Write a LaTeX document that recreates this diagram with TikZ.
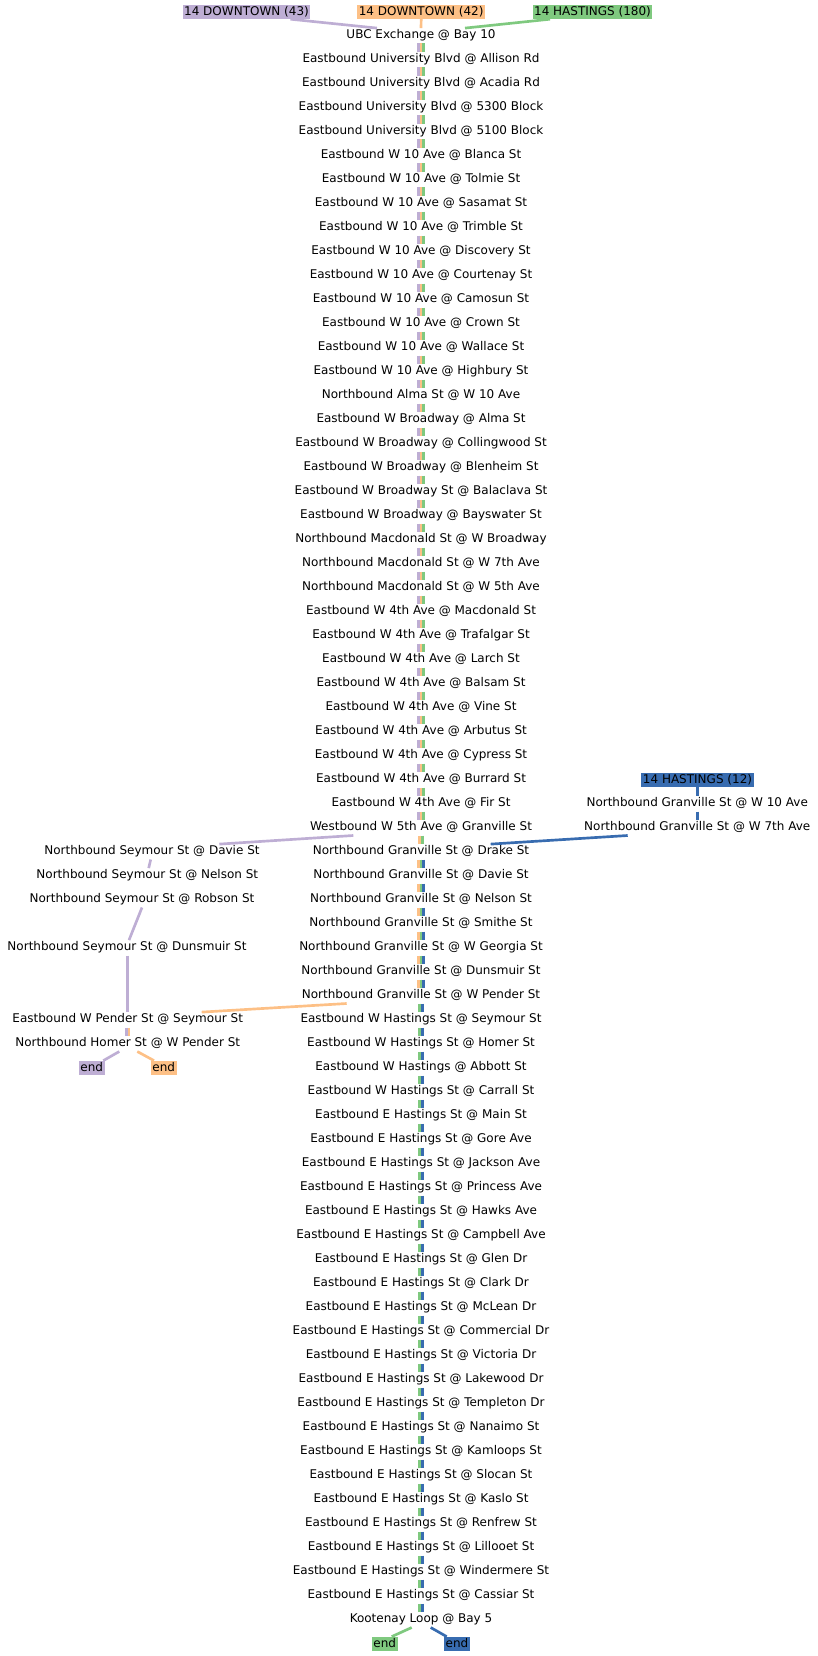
\documentclass[tikz,border=0pt]{standalone}
\usepackage{fontspec}
\setmainfont{DejaVu Sans}
\usepackage{tikz}
\usetikzlibrary{calc}
\definecolor{linePurple}{HTML}{BEAED4}
\definecolor{lineOrange}{HTML}{FDC086}
\definecolor{lineGreen}{HTML}{7FC97F}
\definecolor{lineBlue}{HTML}{386CB0}

\begin{document}
\begin{tikzpicture}[x=1pt, y=-1pt,
        parada/.style={inner sep=0pt, minimum height=15pt, text height=9pt, text depth=3pt, font=\fontsize{12}{14}\selectfont},
        ruta/.style={inner xsep=1.5pt, inner ysep=0pt, text height=11pt, text depth=3pt, font=\fontsize{12}{14}\selectfont, fill=#1},
        tramo/.style={line width=2.67pt, draw=#1}
    ]
        \useasboundingbox (0,0) rectangle (817,1656);

        % --- Columna principal de paradas ---
        \foreach \nombre [count=\i from 0] in {UBC Exchange @ Bay 10,
            Eastbound University Blvd @ Allison Rd,
            Eastbound University Blvd @ Acadia Rd,
            Eastbound University Blvd @ 5300 Block,
            Eastbound University Blvd @ 5100 Block,
            Eastbound W 10 Ave @ Blanca St,
            Eastbound W 10 Ave @ Tolmie St,
            Eastbound W 10 Ave @ Sasamat St,
            Eastbound W 10 Ave @ Trimble St,
            Eastbound W 10 Ave @ Discovery St,
            Eastbound W 10 Ave @ Courtenay St,
            Eastbound W 10 Ave @ Camosun St,
            Eastbound W 10 Ave @ Crown St,
            Eastbound W 10 Ave @ Wallace St,
            Eastbound W 10 Ave @ Highbury St,
            Northbound Alma St @ W 10 Ave,
            Eastbound W Broadway @ Alma St,
            Eastbound W Broadway @ Collingwood St,
            Eastbound W Broadway @ Blenheim St,
            Eastbound W Broadway St @ Balaclava St,
            Eastbound W Broadway @ Bayswater St,
            Northbound Macdonald St @ W Broadway,
            Northbound Macdonald St @ W 7th Ave,
            Northbound Macdonald St @ W 5th Ave,
            Eastbound W 4th Ave @ Macdonald St,
            Eastbound W 4th Ave @ Trafalgar St,
            Eastbound W 4th Ave @ Larch St,
            Eastbound W 4th Ave @ Balsam St,
            Eastbound W 4th Ave @ Vine St,
            Eastbound W 4th Ave @ Arbutus St,
            Eastbound W 4th Ave @ Cypress St,
            Eastbound W 4th Ave @ Burrard St,
            Eastbound W 4th Ave @ Fir St,
            Westbound W 5th Ave @ Granville St,
            Northbound Granville St @ Drake St,
            Northbound Granville St @ Davie St,
            Northbound Granville St @ Nelson St,
            Northbound Granville St @ Smithe St,
            Northbound Granville St @ W Georgia St,
            Northbound Granville St @ Dunsmuir St,
            Northbound Granville St @ W Pender St,
            Eastbound W Hastings St @ Seymour St,
            Eastbound W Hastings St @ Homer St,
            Eastbound W Hastings @ Abbott St,
            Eastbound W Hastings St @ Carrall St,
            Eastbound E Hastings St @ Main St,
            Eastbound E Hastings St @ Gore Ave,
            Eastbound E Hastings St @ Jackson Ave,
            Eastbound E Hastings St @ Princess Ave,
            Eastbound E Hastings St @ Hawks Ave,
            Eastbound E Hastings St @ Campbell Ave,
            Eastbound E Hastings St @ Glen Dr,
            Eastbound E Hastings St @ Clark Dr,
            Eastbound E Hastings St @ McLean Dr,
            Eastbound E Hastings St @ Commercial Dr,
            Eastbound E Hastings St @ Victoria Dr,
            Eastbound E Hastings St @ Lakewood Dr,
            Eastbound E Hastings St @ Templeton Dr,
            Eastbound E Hastings St @ Nanaimo St,
            Eastbound E Hastings St @ Kamloops St,
            Eastbound E Hastings St @ Slocan St,
            Eastbound E Hastings St @ Kaslo St,
            Eastbound E Hastings St @ Renfrew St,
            Eastbound E Hastings St @ Lillooet St,
            Eastbound E Hastings St @ Windermere St,
            Eastbound E Hastings St @ Cassiar St,
            Kootenay Loop @ Bay 5}
            \node[parada] (p\i) at (421, {35.8+24*\i}) {\nombre};

        % --- Cabeceras de ruta ---
        \node[ruta=linePurple] (r43) at (246.5, 12) {14 DOWNTOWN (43)};
        \node[ruta=lineOrange] (r42) at (421.2, 12) {14 DOWNTOWN (42)};
        \node[ruta=lineGreen] (r180) at (592.5, 12) {14 HASTINGS (180)};
        \node[ruta=lineBlue] (r12) at (697.5, 779.7) {14 HASTINGS (12)};

        % --- Ramal de Granville (14 HASTINGS 12) ---
        \node[parada] (gran10) at (697.2, 803.8) {Northbound Granville St @ W 10 Ave};
        \node[parada] (gran7) at (697.2, 827.8) {Northbound Granville St @ W 7th Ave};

        % --- Ramal de Seymour ---
        \node[parada] (seyDavie) at (152, 851.8) {Northbound Seymour St @ Davie St};
        \node[parada] (seyNelson) at (147.3, 875.8) {Northbound Seymour St @ Nelson St};
        \node[parada] (seyRobson) at (142, 899.8) {Northbound Seymour St @ Robson St};
        \node[parada] (seyDuns) at (127, 947.8) {Northbound Seymour St @ Dunsmuir St};
        \node[parada] (pender) at (127.7, 1019.8) {Eastbound W Pender St @ Seymour St};
        \node[parada] (homer) at (127.7, 1043.8) {Northbound Homer St @ W Pender St};

        % --- Finales ---
        \node[ruta=linePurple] (fin43) at (91.7, 1067.8) {end};
        \node[ruta=lineOrange] (fin42) at (163.7, 1067.8) {end};
        \node[ruta=lineGreen] (fin180) at (384.7, 1643.8) {end};
        \node[ruta=lineBlue] (fin12) at (457, 1643.8) {end};

        % ================= TRAMOS =================

        % Salidas desde las cabeceras
        \draw[tramo=linePurple] ([xshift=44pt]r43.south) -- ([xshift=-44pt]p0.north);
        \draw[tramo=lineOrange] (r42.south) -- (p0.north);
        \draw[tramo=lineGreen] ([xshift=-42.5pt]r180.south) -- ([xshift=44pt]p0.north);

        % Tronco comun: tres lineas
        \foreach \i [evaluate=\i as \j using int(\i+1)] in {0,...,32} {
            \draw[tramo=linePurple] ([xshift=-2.67pt]p\i.south) -- ([xshift=-2.67pt]p\j.north);
            \draw[tramo=lineOrange] (p\i.south) -- (p\j.north);
            \draw[tramo=lineGreen] ([xshift=2.67pt]p\i.south) -- ([xshift=2.67pt]p\j.north);
        }
        \draw[tramo=lineOrange] ([xshift=-1.33pt]p33.south) -- ([xshift=-1.33pt]p34.north);
        \draw[tramo=lineGreen] ([xshift=1.33pt]p33.south) -- ([xshift=1.33pt]p34.north);
        \foreach \i [evaluate=\i as \j using int(\i+1)] in {34,...,39} {
            \draw[tramo=lineOrange] ([xshift=-2.67pt]p\i.south) -- ([xshift=-2.67pt]p\j.north);
            \draw[tramo=lineGreen] (p\i.south) -- (p\j.north);
            \draw[tramo=lineBlue] ([xshift=2.67pt]p\i.south) -- ([xshift=2.67pt]p\j.north);
        }
        \foreach \i [evaluate=\i as \j using int(\i+1)] in {40,...,65} {
            \draw[tramo=lineGreen] ([xshift=-1.33pt]p\i.south) -- ([xshift=-1.33pt]p\j.north);
            \draw[tramo=lineBlue] ([xshift=1.33pt]p\i.south) -- ([xshift=1.33pt]p\j.north);
        }

        % Ramal de Granville hasta Drake St
        \draw[tramo=lineBlue] (r12.south) -- (r12.south |- gran10.north);
        \draw[tramo=lineBlue] (gran10.south) -- (gran7.north);
        \draw[tramo=lineBlue] ([xshift=-69.5pt]gran7.south) -- ([xshift=69.7pt]p34.north);

        % Ramal de Seymour
        \draw[tramo=linePurple] ([xshift=-67.7pt]p33.south) -- ([xshift=67.3pt]seyDavie.north);
        \draw[tramo=linePurple] ([xshift=-1.3pt]seyDavie.south) -- ([xshift=1.4pt]seyNelson.north);
        \draw[tramo=linePurple] (seyRobson.south) -- ([xshift=2pt]seyDuns.north);
        \draw[tramo=linePurple] ([xshift=0.7pt]seyDuns.south) -- (pender.north);
        \draw[tramo=lineOrange] ([xshift=-74.3pt]p40.south) -- ([xshift=74pt]pender.north);
        \draw[tramo=linePurple] ([xshift=-1.33pt]pender.south) -- ([xshift=-1.33pt]homer.north);
        \draw[tramo=lineOrange] ([xshift=1.33pt]pender.south) -- ([xshift=1.33pt]homer.north);
        \draw[tramo=linePurple] ([xshift=-8.4pt]homer.south) -- ([xshift=11.6pt]fin43.north);
        \draw[tramo=lineOrange] ([xshift=9.6pt]homer.south) -- ([xshift=-9.7pt]fin42.north);

        % Llegada a Kootenay Loop
        \draw[tramo=lineGreen] ([xshift=-9.3pt]p66.south) -- ([xshift=7pt]fin180.north);
        \draw[tramo=lineBlue] ([xshift=9.7pt]p66.south) -- ([xshift=-10.3pt]fin12.north);

    \end{tikzpicture}
\end{document}
